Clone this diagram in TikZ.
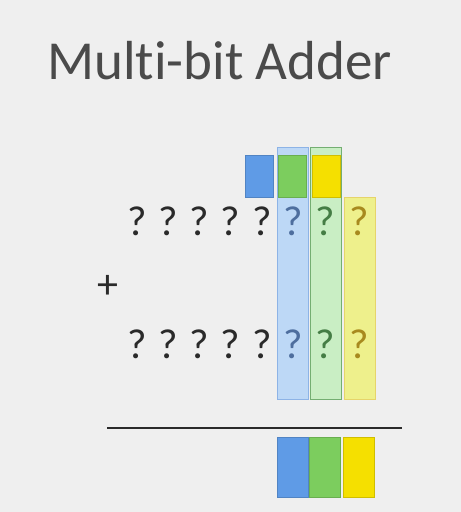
\documentclass[tikz,border=0pt]{standalone}
\usepackage{fontspec}
\setmainfont{Carlito}[Ligatures=NoCommon]
\usepackage{xcolor}
\usetikzlibrary{positioning}

\definecolor{bg}{HTML}{EFEFEF}
\definecolor{ink}{HTML}{2A2A2A}
\definecolor{titleink}{HTML}{4A4A4A}
\definecolor{colblue}{HTML}{BDD8F6}
\definecolor{colbluedraw}{HTML}{8DB3E6}
\definecolor{colgreen}{HTML}{C9EEC4}
\definecolor{colgreendraw}{HTML}{74AE72}
\definecolor{colyellow}{HTML}{EEF08C}
\definecolor{colyellowdraw}{HTML}{E6D46A}
\definecolor{sqblue}{HTML}{5F9BE6}
\definecolor{sqgreen}{HTML}{7CCD5E}
\definecolor{sqyellow}{HTML}{F5E000}
\definecolor{qblue}{HTML}{4E6E9E}
\definecolor{qgreen}{HTML}{457D45}
\definecolor{qyellow}{HTML}{A88A1E}

\begin{document}
\begin{tikzpicture}[
  x=1pt, y=1pt,
  bit/.style={font=\fontsize{42}{42}\selectfont, text=ink, inner sep=0pt},
  col/.style={draw=#1draw, fill=#1, line width=1pt, inner sep=0pt,
    minimum width=31pt},
  sq/.style={draw=#1!85!black, fill=#1, line width=0.6pt, inner sep=0pt,
    minimum width=28pt, minimum height=42pt},
  sum/.style={draw=#1!85!black, fill=#1, line width=0.6pt, inner sep=0pt,
    minimum width=31pt, minimum height=60pt}
]
  \fill[bg] (0,0) rectangle (461,-512);
  \useasboundingbox (0,0) rectangle (461,-512);

  \node[anchor=base west, inner sep=0pt, text=titleink,
    font=\fontsize{55}{55}\selectfont] (title) at (47,-79) {Multi-bit Adder};

  % bit columns
  \node[col=colblue, minimum height=252pt] (cblue) at (293,-273) {};
  \node[col=colgreen, minimum height=252pt] (cgreen) at (325.5,-273) {};
  \node[col=colyellow, minimum height=202pt] (cyellow) at (359.5,-298) {};

  % carries
  \node[sq=sqblue] (kblue) at (259,-176) {};
  \node[sq=sqgreen] (kgreen) at (292.5,-176) {};
  \node[sq=sqyellow] (kyellow) at (326.5,-176) {};

  % operands
  \foreach \i/\x in {1/137,2/168,3/199,4/230,5/262} {
    \node[bit] (a\i) at (\x,-221) {?};
    \node[bit] (b\i) at (\x,-344) {?};
  }
  \node[bit, text=qblue] (a6) at (293,-221) {?};
  \node[bit, text=qgreen] (a7) at (325.5,-221) {?};
  \node[bit, text=qyellow] (a8) at (359,-221) {?};
  \node[bit, text=qblue] (b6) at (293,-344) {?};
  \node[bit, text=qgreen] (b7) at (325.5,-344) {?};
  \node[bit, text=qyellow] (b8) at (359,-344) {?};

  \node[bit] (plus) at (108,-287) {+};

  % result
  \coordinate (rule0) at (107,-428);
  \coordinate (rule1) at (402,-428);
  \draw[ink, line width=2pt] (rule0) -- (rule1);

  \node[sum=sqblue] (sblue) at (293,-467) {};
  \node[sum=sqgreen, right=0pt of sblue] (sgreen) {};
  \node[sum=sqyellow, right=3pt of sgreen] (syellow) {};
\end{tikzpicture}
\end{document}
